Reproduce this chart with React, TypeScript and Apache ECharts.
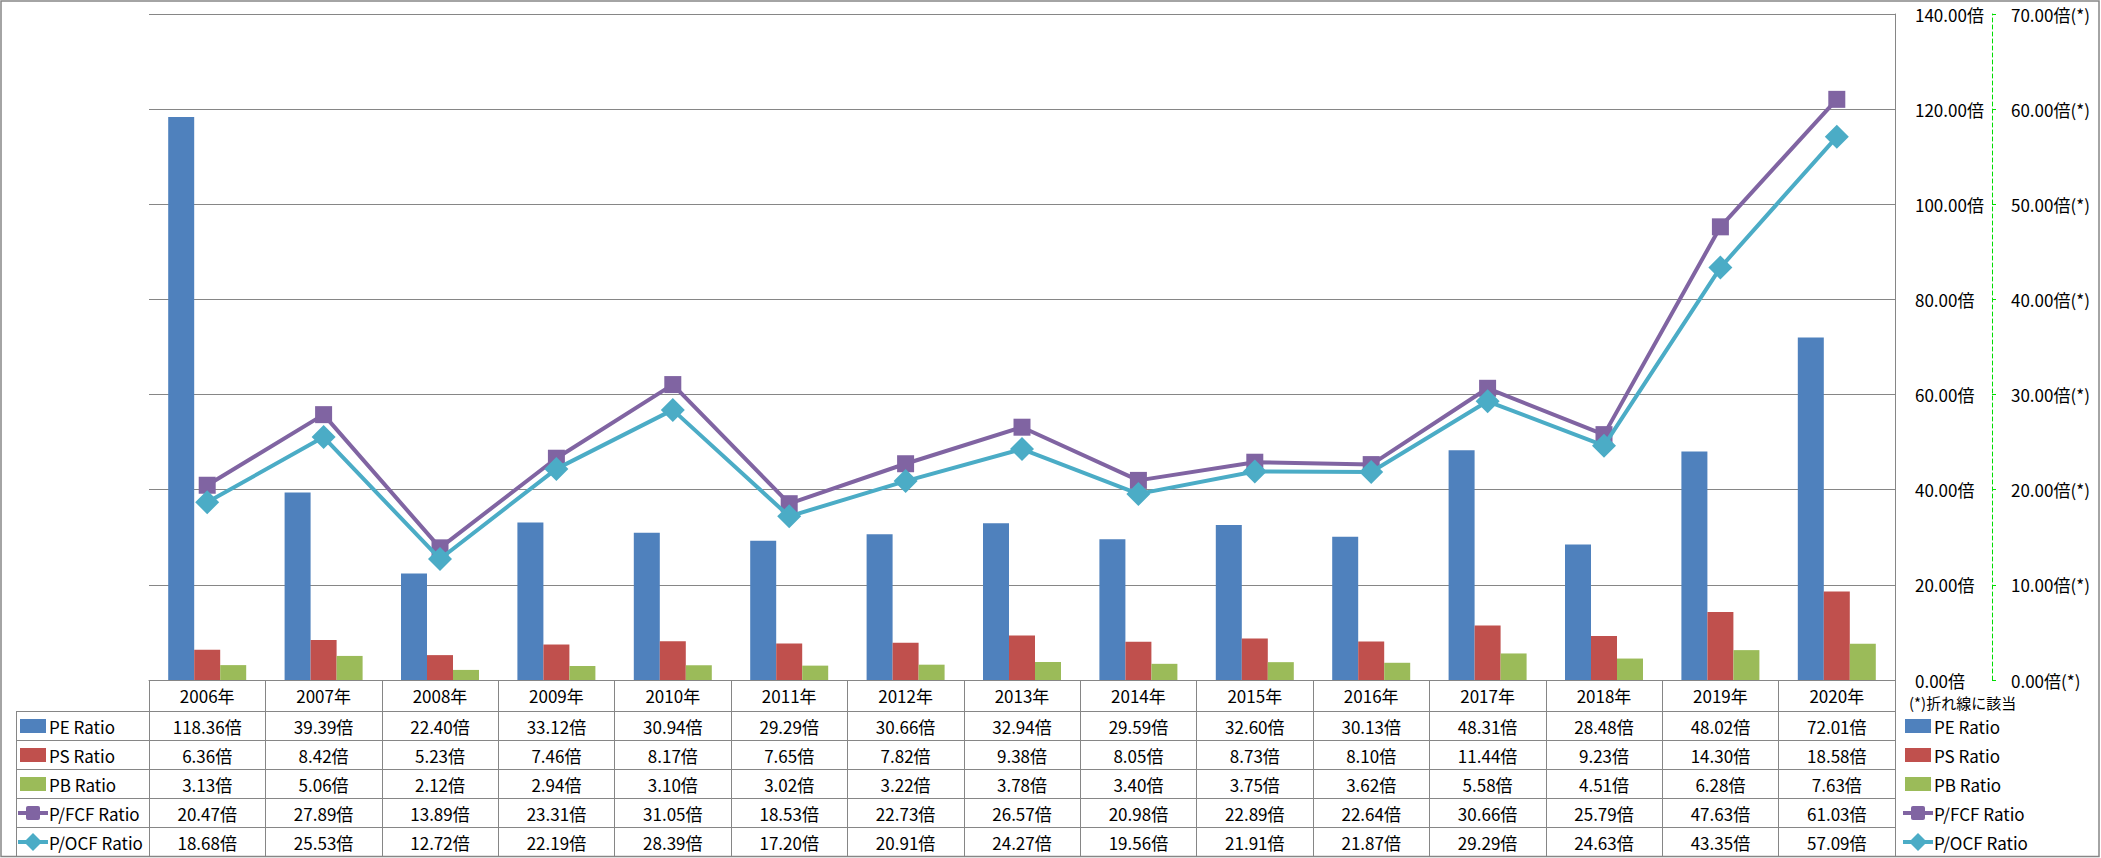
import React, { useEffect, useRef } from 'react';
import * as echarts from 'echarts';

const years = ['2006年', '2007年', '2008年', '2009年', '2010年', '2011年', '2012年', '2013年', '2014年', '2015年', '2016年', '2017年', '2018年', '2019年', '2020年'];
const peRatio = [118.36, 39.39, 22.40, 33.12, 30.94, 29.29, 30.66, 32.94, 29.59, 32.60, 30.13, 48.31, 28.48, 48.02, 72.01];
const psRatio = [6.36, 8.42, 5.23, 7.46, 8.17, 7.65, 7.82, 9.38, 8.05, 8.73, 8.10, 11.44, 9.23, 14.30, 18.58];
const pbRatio = [3.13, 5.06, 2.12, 2.94, 3.10, 3.02, 3.22, 3.78, 3.40, 3.75, 3.62, 5.58, 4.51, 6.28, 7.63];
const pfcfRatio = [20.47, 27.89, 13.89, 23.31, 31.05, 18.53, 22.73, 26.57, 20.98, 22.89, 22.64, 30.66, 25.79, 47.63, 61.03];
const pocfRatio = [18.68, 25.53, 12.72, 22.19, 28.39, 17.20, 20.91, 24.27, 19.56, 21.91, 21.87, 29.29, 24.63, 43.35, 57.09];

const seriesNames = ['PE Ratio', 'PS Ratio', 'PB Ratio', 'P/FCF Ratio', 'P/OCF Ratio'];
const seriesData = [peRatio, psRatio, pbRatio, pfcfRatio, pocfRatio];
const colors = ['#4F81BD', '#C0504D', '#9BBB59', '#8064A2', '#4BACC6'];
const noteText = '(*)折れ線に該当';

const W = 2101;
const H = 858;
const GL = 149;
const GR = 1895;
const GT = 14;
const GB = 680;
const HEADER_B = 711;
const ROW_H = 29;
const TABLE_L = 16;
const GRAY = '#868686';
const FONT = "'Noto Sans CJK JP', 'Noto Sans', sans-serif";
const FS = 17;

function legendIcon(i: number, cx: number, cy: number): any[] {
  const c = colors[i];
  if (i < 3) {
    return [{ type: 'rect', shape: { x: cx - 13, y: cy - 7, width: 26, height: 14 }, style: { fill: c } }];
  }
  const els: any[] = [
    { type: 'line', shape: { x1: cx - 15, y1: cy, x2: cx + 15, y2: cy }, style: { stroke: c, lineWidth: 4 } },
  ];
  if (i === 3) {
    els.push({ type: 'rect', shape: { x: cx - 7, y: cy - 7, width: 14, height: 14, r: 2 }, style: { fill: c } });
  } else {
    els.push({ type: 'polygon', shape: { points: [[cx, cy - 9], [cx + 9, cy], [cx, cy + 9], [cx - 9, cy]] }, style: { fill: c } });
  }
  return els;
}

export default function App() {
  const ref = useRef<HTMLDivElement>(null);
  useEffect(() => {
    if (!ref.current) return;
    const chart = echarts.init(ref.current, undefined, { renderer: 'svg' });
    const catW = (GR - GL) / years.length;
    const graphics: any[] = [];
    graphics.push({ type: 'rect', shape: { x: 1, y: 1, width: W - 3, height: H - 2.5 }, style: { fill: 'none', stroke: GRAY, lineWidth: 1.5 }, z: 10 });
    graphics.push({ type: 'line', shape: { x1: TABLE_L + 0.5, y1: HEADER_B, x2: TABLE_L + 0.5, y2: H - 2 }, style: { stroke: GRAY, lineWidth: 1 } });
    for (let r = 0; r < 5; r++) {
      const y = HEADER_B + r * ROW_H + 0.5;
      graphics.push({ type: 'line', shape: { x1: TABLE_L, y1: y, x2: GR, y2: y }, style: { stroke: GRAY, lineWidth: 1 } });
    }
    seriesData.forEach((arr, r) => {
      const cy = HEADER_B + r * ROW_H + ROW_H / 2 + 0.5;
      arr.forEach((v, i) => {
        graphics.push({
          type: 'text', x: GL + (i + 0.5) * catW, y: cy,
          style: { text: v.toFixed(2) + '倍', fill: '#000', font: `${FS}px ${FONT}`, align: 'center', verticalAlign: 'middle' },
        });
      });
      legendIcon(r, 33, cy).forEach((e) => graphics.push(e));
      graphics.push({ type: 'text', x: 49, y: cy, style: { text: seriesNames[r], fill: '#000', font: `${FS}px ${FONT}`, align: 'left', verticalAlign: 'middle' } });
      legendIcon(r, 1918, cy).forEach((e) => graphics.push(e));
      graphics.push({ type: 'text', x: 1934, y: cy, style: { text: seriesNames[r], fill: '#000', font: `${FS}px ${FONT}`, align: 'left', verticalAlign: 'middle' } });
    });
    graphics.push({ type: 'text', x: 1909, y: 702, style: { text: noteText, fill: '#000', font: `15px ${FONT}`, align: 'left', verticalAlign: 'middle' } });

    const option: any = {
      animation: false,
      backgroundColor: '#fff',
      textStyle: { fontFamily: FONT },
      grid: { left: GL, right: W - GR, top: GT, bottom: H - GB, containLabel: false },
      xAxis: {
        type: 'category',
        data: years,
        axisLine: { show: true, lineStyle: { color: GRAY, width: 1 } },
        axisTick: { show: true, length: H - 2 - GB, interval: 0, lineStyle: { color: GRAY, width: 1 } },
        axisLabel: { color: '#000', fontSize: FS, margin: 7, interval: 0, fontFamily: FONT },
        splitLine: { show: false },
      },
      yAxis: [
        {
          type: 'value', position: 'right', min: 0, max: 140, interval: 20,
          axisLine: { show: true, lineStyle: { color: GRAY, width: 1 } },
          axisTick: { show: false },
          axisLabel: { color: '#000', fontSize: FS, margin: 20, align: 'left', fontFamily: FONT, formatter: (v: number) => v.toFixed(2) + '倍' },
          splitLine: { show: true, lineStyle: { color: GRAY, width: 1 } },
        },
        {
          type: 'value', position: 'right', offset: 97, min: 0, max: 70, interval: 10,
          axisLine: { show: true, lineStyle: { color: '#00dd00', width: 1, type: [4, 3] } },
          axisTick: { show: true, inside: false, length: 4, lineStyle: { color: '#00dd00', width: 1 } },
          axisLabel: { color: '#000', fontSize: FS, margin: 19, align: 'left', fontFamily: FONT, formatter: (v: number) => v.toFixed(2) + '倍(*)' },
          splitLine: { show: false },
        },
      ],
      series: [
        { name: seriesNames[0], type: 'bar', data: peRatio, barWidth: 26, barGap: '0%', itemStyle: { color: colors[0] } },
        { name: seriesNames[1], type: 'bar', data: psRatio, barWidth: 26, barGap: '0%', itemStyle: { color: colors[1] } },
        { name: seriesNames[2], type: 'bar', data: pbRatio, barWidth: 26, barGap: '0%', itemStyle: { color: colors[2] } },
        {
          name: seriesNames[3], type: 'line', yAxisIndex: 1, data: pfcfRatio, symbol: 'rect', symbolSize: 17,
          lineStyle: { color: colors[3], width: 4 }, itemStyle: { color: colors[3] }, z: 5,
        },
        {
          name: seriesNames[4], type: 'line', yAxisIndex: 1, data: pocfRatio, symbol: 'diamond', symbolSize: 24,
          lineStyle: { color: colors[4], width: 4 }, itemStyle: { color: colors[4] }, z: 6,
        },
      ],
      graphic: graphics,
    };
    chart.setOption(option);
    return () => chart.dispose();
  }, []);
  return <div ref={ref} style={{ position: 'fixed', left: 0, top: 0, width: W, height: H }} />;
}
